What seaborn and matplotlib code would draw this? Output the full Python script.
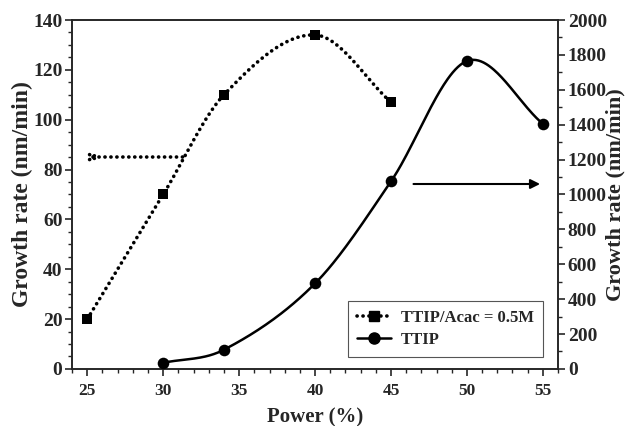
import numpy as np
import pandas as pd
import matplotlib
matplotlib.use("Agg")
import matplotlib.pyplot as plt
from matplotlib.ticker import MultipleLocator
from matplotlib.lines import Line2D
import seaborn as sns

# data
power_acac = [25, 30, 34, 40, 45]
rate_acac = [20, 70, 110, 134, 107]
power_ttip = [30, 34, 40, 45, 50, 55]
rate_ttip = [35, 110, 490, 1075, 1765, 1405]


def smooth_line(x, y, n=60):
    # cubic Hermite through the measured points, used only to draw the curve
    x = np.asarray(x, float)
    y = np.asarray(y, float)
    m = np.gradient(y, x)
    m[1:-1] = (y[2:] - y[:-2]) / (x[2:] - x[:-2])
    xs_all, ys_all = [], []
    for i in range(len(x) - 1):
        h = x[i + 1] - x[i]
        t = np.linspace(0, 1, n)
        h00 = 2 * t**3 - 3 * t**2 + 1
        h10 = t**3 - 2 * t**2 + t
        h01 = -2 * t**3 + 3 * t**2
        h11 = t**3 - t**2
        xs_all.append(x[i] + t * h)
        ys_all.append(h00 * y[i] + h10 * h * m[i] + h01 * y[i + 1] + h11 * h * m[i + 1])
    return np.concatenate(xs_all), np.concatenate(ys_all)


sns.set_style("ticks")
plt.rcParams['font.family'] = ['Liberation Serif', 'DejaVu Serif']
plt.rcParams['font.weight'] = 'bold'

fig, ax = plt.subplots(figsize=(6.27, 4.26), dpi=100)
fig.subplots_adjust(left=0.115, right=0.89, top=0.953, bottom=0.134)
ax2 = ax.twinx()

dotted = (0, (0.05, 1.6))

xs, ys = smooth_line(power_acac, rate_acac)
sns.lineplot(x=xs, y=ys, ax=ax, color='black', lw=2.6, linestyle=dotted,
             dash_capstyle='round', sort=False)
sns.scatterplot(x=power_acac, y=rate_acac, ax=ax, color='black', marker='s',
                s=45, edgecolor='black', linewidth=0, zorder=5)

xs2, ys2 = smooth_line(power_ttip, rate_ttip)
sns.lineplot(x=xs2, y=ys2, ax=ax2, color='black', lw=1.8, sort=False)
sns.scatterplot(x=power_ttip, y=rate_ttip, ax=ax2, color='black', marker='o',
                s=70, edgecolor='black', linewidth=0, zorder=5)

# arrows pointing to the axes
ax.plot([25.4, 31.4], [85, 85], color='black', lw=2.6, linestyle=dotted,
        dash_capstyle='round')
ax.plot([25.15, 25.6], [84, 86.2], color='black', lw=2.6, linestyle=dotted,
        dash_capstyle='round')
ax.plot([25.15, 25.6], [86, 83.8], color='black', lw=2.6, linestyle=dotted,
        dash_capstyle='round')
ax2.annotate('', xy=(55.0, 1060), xytext=(46.3, 1060),
             arrowprops=dict(arrowstyle='-|>', color='black', lw=1.5,
                             mutation_scale=14))

ax.set_xlim(24, 56)
ax.set_ylim(0, 140)
ax2.set_ylim(0, 2000)
ax.xaxis.set_major_locator(MultipleLocator(5))
ax.xaxis.set_minor_locator(MultipleLocator(1))
ax.yaxis.set_major_locator(MultipleLocator(20))
ax.yaxis.set_minor_locator(MultipleLocator(5))
ax2.yaxis.set_major_locator(MultipleLocator(200))
ax2.yaxis.set_minor_locator(MultipleLocator(100))

for a in (ax, ax2):
    a.tick_params(which='major', direction='out', length=5, width=1.2,
                  labelsize=14, pad=2)
    a.tick_params(which='minor', direction='out', length=3, width=1)
    for s in a.spines.values():
        s.set_visible(True)
        s.set_linewidth(1.2)
ax.tick_params(axis='x', labelsize=12.5, pad=5)
for a in (ax, ax2):
    for lab in a.get_xticklabels() + a.get_yticklabels():
        lab.set_fontweight('bold')

ax.set_xlabel('Power (%)', fontsize=15, fontweight='bold', labelpad=6)
ax.set_ylabel('Growth rate (nm/min)', fontsize=17, fontweight='bold', labelpad=0)
ax2.set_ylabel('Growth rate (nm/min)', fontsize=16, fontweight='bold')
ax2.yaxis.set_label_coords(1.098, 0.5)

handles = [
    Line2D([], [], color='black', lw=2.6, linestyle=dotted,
           dash_capstyle='round', marker='s', markersize=7),
    Line2D([], [], color='black', lw=1.8, marker='o', markersize=8),
]
leg = ax.legend(handles, ['TTIP/Acac = 0.5M', 'TTIP'], loc='lower right',
                bbox_to_anchor=(0.969, 0.034), borderaxespad=0, fancybox=False,
                framealpha=1, edgecolor='#555555',
                prop={'weight': 'bold', 'size': 12},
                handlelength=2.0, borderpad=0.55, labelspacing=0.35,
                handletextpad=0.6)
leg.get_frame().set_linewidth(0.8)

fig.savefig('out.png', dpi=100)
